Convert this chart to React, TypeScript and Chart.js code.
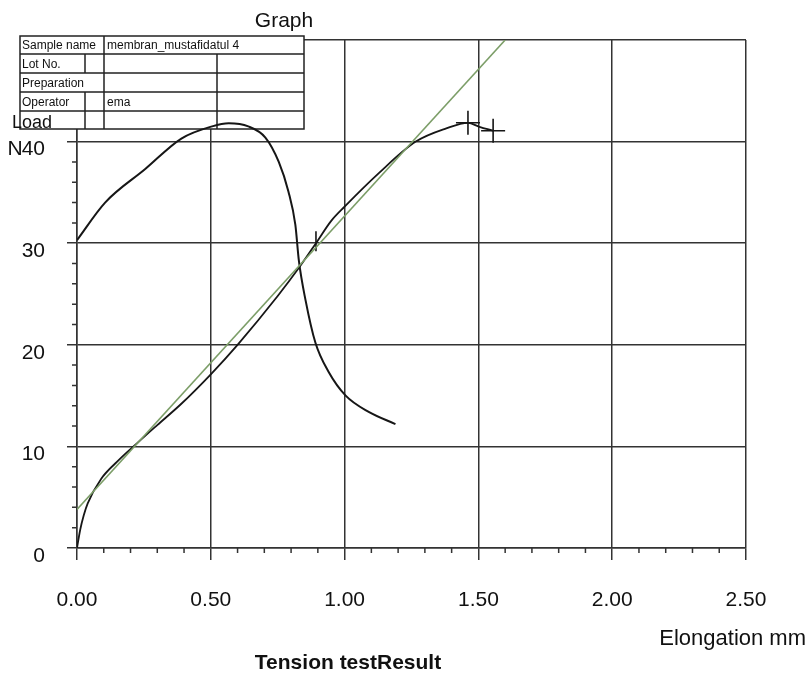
import React, { useEffect, useRef } from 'react';
import { Chart, registerables } from 'chart.js';

Chart.register(...registerables);

// ---- data ----
const xTickValues = [0, 0.5, 1.0, 1.5, 2.0, 2.5];
const yTickValues = [0, 10, 20, 30, 40];

const curveAx = [0, 0.105, 0.255, 0.39, 0.505, 0.567, 0.64, 0.704, 0.754, 0.79, 0.816, 0.829, 0.854, 0.891, 0.941, 1.004, 1.09, 1.19];
const curveAy = [30.3, 34.0, 37.3, 40.3, 41.5, 41.8, 41.5, 40.4, 38.0, 35.1, 31.8, 28.3, 24.4, 20.2, 17.3, 15.0, 13.4, 12.2];

const curveBx = [0, 0.012, 0.025, 0.04, 0.09, 0.15, 0.228, 0.3, 0.39, 0.5, 0.6, 0.75, 0.83, 0.893, 0.95, 1.0, 1.128, 1.266, 1.38, 1.461, 1.504, 1.555];
const curveBy = [0, 1.8, 3.2, 4.4, 6.8, 8.5, 10.4, 12.1, 14.2, 17.1, 20.0, 24.8, 27.6, 30.0, 32.2, 33.6, 36.9, 40.0, 41.3, 41.85, 41.45, 41.07];

const fitLineX = [0, 1.6];
const fitLineY = [3.8, 50];

const markerX = [0.893, 1.461, 1.555];
const markerY = [30.2, 41.85, 41.07];

const tableLabels = ['Sample name', 'Lot No.', 'Preparation', 'Operator', ''];
const tableValues = ['membran_mustafidatul 4', '', '', 'ema', ''];

const chartTitle = 'Graph';
const xAxisTitle = 'Elongation mm';
const footerTitle = 'Tension testResult';
const yAxisTitle = 'Load';
const yUnit = 'N';

const FONT = '"Liberation Sans", Arial, sans-serif';

const toPoints = (xs: number[], ys: number[]) => xs.map((x, i) => ({ x, y: ys[i] }));

const overlayPlugin = {
  id: 'overlay',
  beforeDatasetsDraw(chart: any) {
    const ctx = chart.ctx as CanvasRenderingContext2D;
    const xsc = chart.scales.x;
    const ysc = chart.scales.y;
    const area = chart.chartArea;
    ctx.save();
    // minor ticks
    ctx.strokeStyle = '#333';
    ctx.lineWidth = 1.5;
    ctx.beginPath();
    for (let i = 1; i < 25; i++) {
      if (i % 5 === 0) continue;
      const px = xsc.getPixelForValue(i / 10);
      ctx.moveTo(px, area.bottom);
      ctx.lineTo(px, area.bottom + 5);
    }
    for (let i = 1; i < 25; i++) {
      if (i % 5 === 0) continue;
      const py = ysc.getPixelForValue(i * 2);
      ctx.moveTo(area.left - 5, py);
      ctx.lineTo(area.left, py);
    }
    ctx.stroke();

    // info table
    const xs = [20, 85, 104, 217, 304];
    const ys = [36, 54, 73, 92, 111, 129];
    ctx.fillStyle = '#ffffff';
    ctx.fillRect(xs[0], ys[0], xs[4] - xs[0], ys[5] - ys[0]);
    ctx.strokeStyle = '#222';
    ctx.lineWidth = 1.5;
    ctx.strokeRect(xs[0], ys[0], xs[4] - xs[0], ys[5] - ys[0]);
    ctx.beginPath();
    for (let r = 1; r < 5; r++) {
      ctx.moveTo(xs[0], ys[r]);
      ctx.lineTo(xs[4], ys[r]);
    }
    const rowCols = [[104], [85, 104, 217], [104, 217], [85, 104, 217], [85, 104, 217]];
    rowCols.forEach((cols, r) => {
      cols.forEach((cx) => {
        ctx.moveTo(cx, ys[r]);
        ctx.lineTo(cx, ys[r + 1]);
      });
    });
    ctx.stroke();
    ctx.fillStyle = '#111';
    ctx.font = `12px ${FONT}`;
    ctx.textAlign = 'left';
    ctx.textBaseline = 'middle';
    tableLabels.forEach((t, r) => {
      if (t) ctx.fillText(t, xs[0] + 2, (ys[r] + ys[r + 1]) / 2 + 1);
    });
    tableValues.forEach((t, r) => {
      if (t) ctx.fillText(t, xs[2] + 3, (ys[r] + ys[r + 1]) / 2 + 1);
    });
    ctx.restore();
  },
  afterDraw(chart: any) {
    const ctx = chart.ctx as CanvasRenderingContext2D;
    const ys = chart.scales.y;
    const area = chart.chartArea;
    ctx.save();
    ctx.fillStyle = '#111';
    ctx.textBaseline = 'alphabetic';
    ctx.font = `21px ${FONT}`;
    ctx.textAlign = 'center';
    ctx.fillText(chartTitle, 284, 27);
    ctx.font = `22px ${FONT}`;
    ctx.textAlign = 'right';
    ctx.fillText(xAxisTitle, 806, 645);
    ctx.font = `bold 21px ${FONT}`;
    ctx.textAlign = 'center';
    ctx.fillText(footerTitle, 348, 669);
    ctx.font = `18px ${FONT}`;
    ctx.textAlign = 'left';
    ctx.fillText(yAxisTitle, 12, 128);
    ctx.font = `21px ${FONT}`;
    const labelRight = area.left - 10 - 22;
    const w40 = ctx.measureText('40').width;
    ctx.textAlign = 'right';
    ctx.textBaseline = 'middle';
    ctx.fillText(yUnit, labelRight - w40 + 1, ys.getPixelForValue(40) + 8);
    ctx.restore();
  },
};

export default function App() {
  const canvasRef = useRef<HTMLCanvasElement | null>(null);

  useEffect(() => {
    if (!canvasRef.current) return;
    const chart = new Chart(canvasRef.current, {
      type: 'line',
      data: {
        datasets: [
          {
            label: 'Fit line',
            data: toPoints(fitLineX, fitLineY),
            borderColor: '#7c9e68',
            borderWidth: 1.6,
            pointRadius: 0,
            tension: 0,
          },
          {
            label: 'Specimen A',
            data: toPoints(curveAx, curveAy),
            borderColor: '#161616',
            borderWidth: 2,
            pointRadius: 0,
            cubicInterpolationMode: 'monotone',
          },
          {
            label: 'Specimen B',
            data: toPoints(curveBx, curveBy),
            borderColor: '#161616',
            borderWidth: 1.8,
            pointRadius: 0,
            cubicInterpolationMode: 'monotone',
          },
          {
            label: 'Markers',
            data: toPoints(markerX, markerY),
            showLine: false,
            borderColor: '#161616',
            backgroundColor: '#161616',
            borderWidth: 1.6,
            pointStyle: ['line', 'cross', 'cross'] as any,
            pointRotation: [90, 0, 0],
            pointRadius: [10, 12, 12],
          },
        ],
      },
      options: {
        responsive: false,
        animation: false,
        events: [],
        layout: { padding: { top: 40, right: 63, bottom: 0, left: 0 } },
        plugins: {
          legend: { display: false },
          tooltip: { enabled: false },
          title: { display: false },
        },
        scales: {
          x: {
            type: 'linear',
            min: 0,
            max: 2.5,
            afterFit: (scale: any) => {
              scale.height = 129;
            },
            afterBuildTicks: (scale: any) => {
              scale.ticks = xTickValues.map((v) => ({ value: v }));
            },
            ticks: {
              autoSkip: false,
              maxRotation: 0,
              minRotation: 0,
              padding: 28,
              color: '#111',
              font: { family: FONT, size: 21 },
              callback: (v: any) => Number(v).toFixed(2),
            },
            grid: {
              color: '#333',
              lineWidth: 1.5,
              tickLength: 12,
              tickColor: '#333',
              drawTicks: true,
            },
            border: { display: true, color: '#333', width: 1.5 },
          },
          y: {
            type: 'linear',
            min: 0,
            max: 50,
            afterFit: (scale: any) => {
              scale.width = 77;
            },
            afterBuildTicks: (scale: any) => {
              scale.ticks = [...yTickValues, 50].map((v) => ({ value: v }));
            },
            ticks: {
              padding: 22,
              labelOffset: 8,
              color: '#111',
              font: { family: FONT, size: 21 },
              callback: (v: any) => (yTickValues.includes(Number(v)) ? String(v) : ''),
            },
            grid: {
              color: '#333',
              lineWidth: 1.5,
              tickLength: 10,
              tickColor: '#333',
              drawTicks: true,
            },
            border: { display: true, color: '#333', width: 1.5 },
          },
        },
      },
      plugins: [overlayPlugin],
    } as any);
    return () => chart.destroy();
  }, []);

  return (
    <div style={{ position: 'absolute', left: 0, top: 0, width: 809, height: 677, background: '#fff' }}>
      <canvas ref={canvasRef} width={809} height={677} style={{ display: 'block' }} />
    </div>
  );
}
